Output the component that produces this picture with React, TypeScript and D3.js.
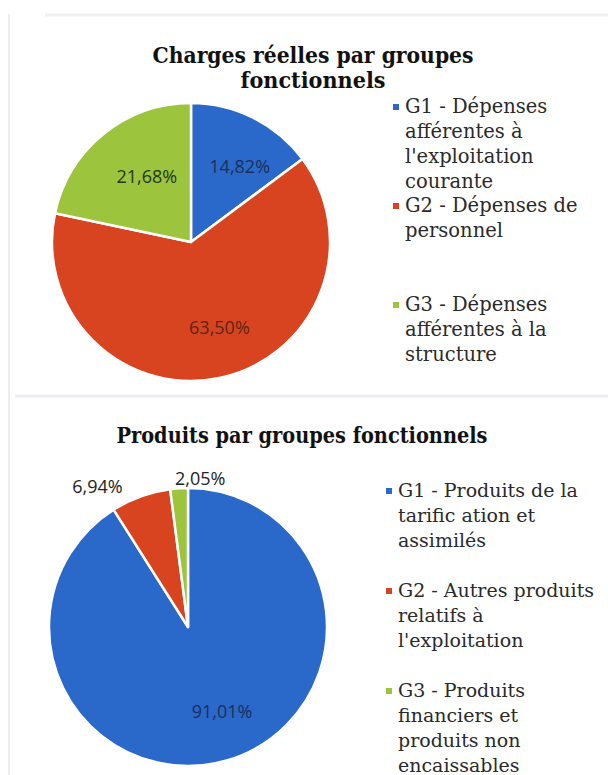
import React from "react";
import * as d3 from "d3";

// Charges réelles
const chargesValues = [14.82, 63.5, 21.68];
const chargesLegend = [
  ["G1 - Dépenses", "afférentes à", "l'exploitation", "courante"],
  ["G2 - Dépenses de", "personnel"],
  ["G3 - Dépenses", "afférentes à la", "structure"],
];

// Produits
const produitsValues = [91.01, 6.94, 2.05];
const produitsLegend = [
  ["G1 - Produits de la", "tarific ation et", "assimilés"],
  ["G2 - Autres produits", "relatifs à", "l'exploitation"],
  ["G3 - Produits", "financiers et", "produits non", "encaissables"],
];

const colors = ["#2a69c9", "#d8441f", "#9cc43c"];
const labelInk = ["#1c2f5a", "#5e2414", "#26361a"];

const W = 608;
const H = 775;
const serif = "'DejaVu Serif', serif";
const sans = "'Open Sans', 'Liberation Sans', sans-serif";

const fmt = (v: number) => v.toFixed(2).replace(".", ",") + "%";

type PieProps = {
  values: number[];
  cx: number;
  cy: number;
  r: number;
};

const Pie = ({ values, cx, cy, r }: PieProps) => {
  const pie = d3.pie<number>().sort(null).value((d) => d);
  const arcs = pie(values);
  const arc = d3.arc<d3.PieArcDatum<number>>().innerRadius(0).outerRadius(r);
  const labelArc = d3
    .arc<d3.PieArcDatum<number>>()
    .innerRadius(r * 0.62)
    .outerRadius(r * 0.62);
  const outerArc = d3
    .arc<d3.PieArcDatum<number>>()
    .innerRadius(r + 12)
    .outerRadius(r + 12);

  return (
    <g transform={`translate(${cx},${cy})`}>
      {arcs.map((a, i) => (
        <path
          key={"s" + i}
          d={arc(a) || ""}
          fill={colors[i]}
          stroke="#fff"
          strokeWidth={2.5}
          strokeLinejoin="round"
        />
      ))}
      {arcs.map((a, i) => {
        const small = a.data < 10;
        const [x, y] = small ? outerArc.centroid(a) : labelArc.centroid(a);
        const mid = (a.startAngle + a.endAngle) / 2;
        const left = small && Math.sin(mid) < -0.2;
        return (
          <text
            key={"l" + i}
            x={left ? x - 14 : small ? x + 22 : x + 10}
            y={small ? y + 2 : y + 2}
            dy="0.35em"
            textAnchor={left ? "end" : "middle"}
            fontFamily={sans}
            fontSize={18}
            fill={small ? "#222" : labelInk[i]}
          >
            {fmt(a.data)}
          </text>
        );
      })}
    </g>
  );
};

type LegendProps = {
  items: string[][];
  x: number;
  y: number;
  step: number;
  size: number;
};

const Legend = ({ items, x, y, step, size }: LegendProps) => (
  <g>
    {items.map((lines, i) => (
      <g key={i} transform={`translate(${x},${y + i * step})`}>
        <rect x={0} y={-9} width={6} height={6} fill={colors[i]} />
        <text fontFamily={serif} fontSize={size} fill="#2a2a2a">
          {lines.map((t, j) => (
            <tspan key={j} x={12} y={j * 25}>
              {t}
            </tspan>
          ))}
        </text>
      </g>
    ))}
  </g>
);

export default function App() {
  return (
    <svg
      width={W}
      height={H}
      style={{ position: "absolute", left: 0, top: 0, background: "#fff" }}
    >
      {/* faint scan frame */}
      <line x1={9} y1={14} x2={9} y2={H} stroke="#eceef1" strokeWidth={2} />
      <line x1={45} y1={15} x2={W} y2={15} stroke="#f0f1f3" strokeWidth={3} />
      <line x1={15} y1={396} x2={W} y2={396} stroke="#eceef1" strokeWidth={3} />

      <text
        fontFamily={serif}
        fontWeight="bold"
        fontSize={23}
        fill="#111"
        textAnchor="middle"
      >
        <tspan x={313} y={63} textLength={321} lengthAdjust="spacingAndGlyphs">
          Charges réelles par groupes
        </tspan>
        <tspan x={313} y={88} textLength={145} lengthAdjust="spacingAndGlyphs">
          fonctionnels
        </tspan>
      </text>
      <Pie values={chargesValues} cx={191} cy={242} r={139} />
      <Legend items={chargesLegend} x={393} y={113} step={99} size={19.5} />

      <text
        x={302}
        y={443}
        fontFamily={serif}
        fontWeight="bold"
        fontSize={23}
        fill="#111"
        textAnchor="middle"
        textLength={371}
        lengthAdjust="spacingAndGlyphs"
      >
        Produits par groupes fonctionnels
      </text>
      <Pie values={produitsValues} cx={188} cy={627} r={139} />
      <Legend items={produitsLegend} x={386} y={497} step={100} size={19} />
    </svg>
  );
}
